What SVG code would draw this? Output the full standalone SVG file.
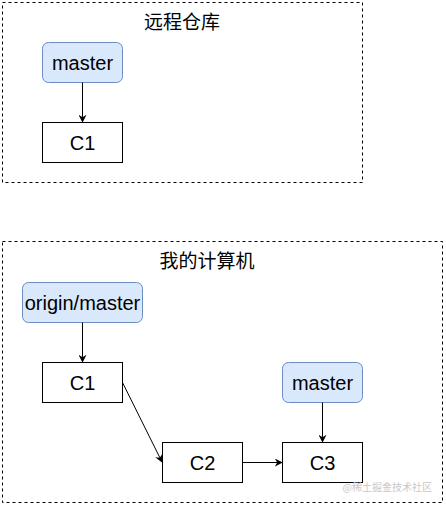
<svg xmlns="http://www.w3.org/2000/svg" width="446" height="506" viewBox="0 0 446 506">
<style>
.grp{fill:none;stroke:#000;stroke-width:1;stroke-dasharray:3 3}
.ref{fill:#dae8fc;stroke:#6c8ebf;stroke-width:1}
.cmt{fill:#fff;stroke:#000;stroke-width:1}
.lbl{font-family:"Liberation Sans",Arial,sans-serif;font-size:20px;fill:#000;text-anchor:middle;dominant-baseline:central}
.ttl{font-family:"Liberation Sans","Noto Sans CJK SC",sans-serif;font-size:19px;fill:#000;text-anchor:middle}
.edge{fill:none;stroke:#000;stroke-width:1;marker-end:url(#arr)}
</style>
<defs>
<marker id="arr" viewBox="0 0 10 10" refX="9" refY="5" markerWidth="8" markerHeight="8" markerUnits="userSpaceOnUse" orient="auto">
<path d="M0,0 L10,5 L0,10 L3,5 Z" fill="#000"/>
</marker>
</defs>
<rect x="0" y="0" width="446" height="506" fill="#fff"/>
<g id="remote">
<rect class="grp" x="2.5" y="2.5" width="360" height="180"/>
<text class="ttl" x="182" y="29">远程仓库</text>
</g>
<g id="local">
<rect class="grp" x="2.5" y="241.5" width="440" height="261"/>
<text class="ttl" x="207" y="268">我的计算机</text>
</g>
<g id="remote-master">
<rect class="ref" x="42.5" y="42.5" width="80" height="40" rx="6"/>
<text class="lbl" x="82.5" y="62.5">master</text>
</g>
<g id="remote-c1">
<rect class="cmt" x="42.5" y="122.5" width="80" height="40"/>
<text class="lbl" x="82.5" y="142.5">C1</text>
</g>
<g id="origin-master">
<rect class="ref" x="22.5" y="282.5" width="120" height="40" rx="6"/>
<text class="lbl" x="82.5" y="302.5">origin/master</text>
</g>
<g id="local-c1">
<rect class="cmt" x="42.5" y="362.5" width="80" height="40"/>
<text class="lbl" x="82.5" y="382.5">C1</text>
</g>
<g id="local-master">
<rect class="ref" x="282.5" y="362.5" width="80" height="40" rx="6"/>
<text class="lbl" x="322.5" y="382.5">master</text>
</g>
<g id="local-c2">
<rect class="cmt" x="162.5" y="442.5" width="80" height="40"/>
<text class="lbl" x="202.5" y="462.5">C2</text>
</g>
<g id="local-c3">
<rect class="cmt" x="282.5" y="442.5" width="80" height="40"/>
<text class="lbl" x="322.5" y="462.5">C3</text>
</g>
<g id="connectors">
<line class="edge" x1="82.5" y1="82.5" x2="82.5" y2="122"/>
<line class="edge" x1="82.5" y1="322.5" x2="82.5" y2="362"/>
<line class="edge" x1="122.5" y1="382.5" x2="162" y2="462"/>
<line class="edge" x1="242.5" y1="462.5" x2="282" y2="462.5"/>
<line class="edge" x1="322.5" y1="402.5" x2="322.5" y2="442"/>
</g>
<text x="432" y="491" font-family="'Noto Sans CJK SC',sans-serif" font-size="10" fill="#c8c8c8" text-anchor="end">@稀土掘金技术社区</text>
</svg>
